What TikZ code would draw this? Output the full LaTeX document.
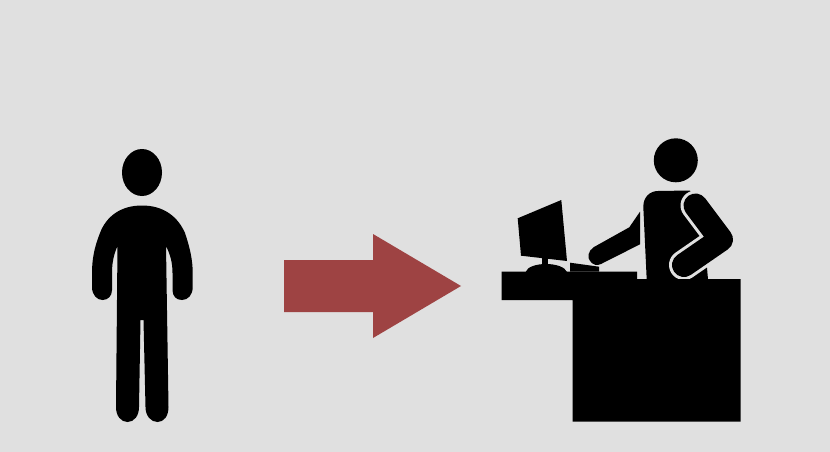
\documentclass[tikz,border=0pt]{standalone}
\definecolor{bgc}{HTML}{E0E0E0}
\definecolor{arrowc}{HTML}{9E4343}
\tikzset{ink/.style={fill=black,draw=none}}
\begin{document}
\begin{tikzpicture}[x=1pt,y=-1pt]
\fill[bgc] (0,0) rectangle (830,452);
\useasboundingbox (0,0) rectangle (830,452);
% standing person
\fill[ink] (142,172.5) ellipse [x radius=20,y radius=23.5];
\fill[ink] (142,205.5) .. controls (120,205.5) and (106,217) .. (100,233)
  .. controls (94,248) and (92,260) .. (92,273) -- (92,287)
  .. controls (92,295) and (97,300) .. (102.5,300)
  .. controls (108,300) and (112,296) .. (112,290) -- (112,273)
  .. controls (112,262) and (114,254) .. (117.5,246)
  -- (116,407) .. controls (116,416) and (121,422) .. (127.5,422)
  .. controls (134,422) and (139,416) .. (139,407)
  -- (140.5,320) -- (143.5,320) -- (145.5,407)
  .. controls (145.5,416) and (151,422) .. (157.5,422)
  .. controls (164,422) and (168.5,416) .. (168.5,407)
  -- (166,246) .. controls (170,254) and (172.5,262) .. (172.5,273) -- (172.5,290)
  .. controls (172.5,296) and (176,300) .. (182,300)
  .. controls (188,300) and (192.7,295) .. (192.7,287) -- (192.7,273)
  .. controls (192.7,260) and (190,248) .. (185,233)
  .. controls (178,217) and (164,205.5) .. (142,205.5) -- cycle;
% arrow
\fill[arrowc] (284,260) -- (373,260) -- (373,234) -- (461,286) -- (373,338) -- (373,312) -- (284,312) -- cycle;
% monitor
\fill[ink] (517.7,218.3) -- (561.3,200) -- (567,261) -- (521,255.7) -- cycle;
\fill[ink] (541.7,255) rectangle (548,266);
\fill[ink] (525.7,272) .. controls (527,267) and (536,264) .. (546,264) .. controls (556,264) and (565,267) .. (567,272) -- cycle;
% keyboard
\fill[ink] (570,262.7) -- (599,266.7) -- (599,271.7) -- (570,271.7) -- cycle;
% seated person
\fill[ink] (675.8,160.3) circle (22);
\fill[ink] (640,211.7) -- (629.3,227.3) -- (594,247) .. controls (588,250.5) and (587,258) .. (590,261)
  .. controls (593,265) and (597,266) .. (601,264) -- (640,244.3) -- cycle;
\fill[ink] (646.7,279.5) -- (643.3,206.7) .. controls (643.3,197) and (650,191) .. (658,191)
  -- (690,190.5) -- (700,215) -- (706.5,262) -- (708,279.5) -- cycle;
\draw[bgc,line width=30,line cap=round,line join=round] (695.5,205.5) -- (721,239.5) -- (684,265);
\draw[black,line width=24,line cap=round,line join=round] (695.5,205.5) -- (721,239.5) -- (684,265);
% desk
\fill[ink] (501.7,271.7) -- (637,271.7) -- (637,279) -- (740.5,279) -- (740.5,421.5) -- (572.5,421.5) -- (572.5,300) -- (501.7,300) -- cycle;
\end{tikzpicture}
\end{document}
